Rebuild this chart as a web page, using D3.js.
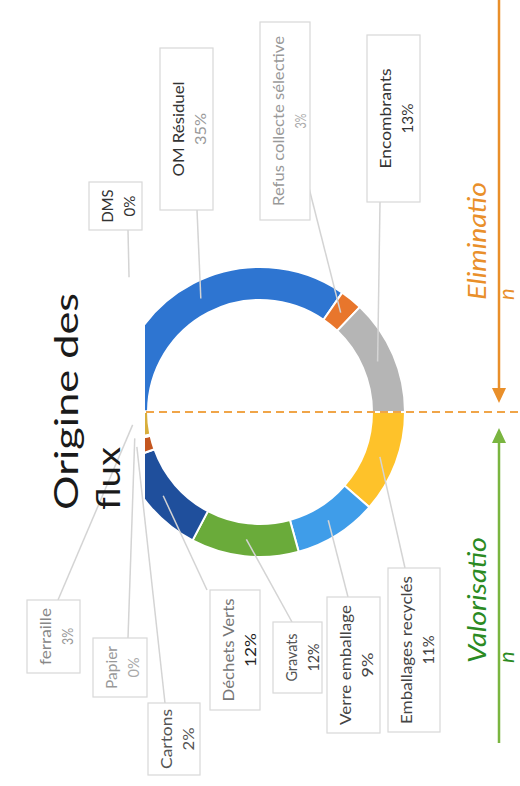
<!DOCTYPE html>
<html lang="fr">
<head>
<meta charset="utf-8">
<title>Origine des flux</title>
<script src="https://d3js.org/d3.v7.min.js"></script>
<style>
  body { margin: 0; background: #fff; }
  svg text { font-family: Lato, "Open Sans", sans-serif; }
</style>
</head>
<body>
<div id="chart"></div>
<script>
"use strict"

// parts of the donut, clockwise from the top (chart is drawn upright then turned)
var categories = ["DMS", "OM Résiduel", "Refus collecte sélective", "Encombrants",
  "Emballages recyclés", "Verre emballage", "Gravats", "Déchets Verts",
  "Cartons", "Papier", "ferraille"];
var shares = [0.1, 34.5, 2.5, 12.9, 11.4, 9.3, 12.0, 11.9, 2.0, 0.2, 3.2];
var colors = ["#7f7f7f", "#2e75d1", "#e8762c", "#b5b5b5", "#fec22a", "#3f9de9",
  "#6aab3a", "#1f4f9c", "#c4561f", "#8a8a8a", "#d8ae3c"];

var titleLines = ["Origine des", "flux"];
var flowNames = [["Eliminatio", "n"], ["Valorisatio", "n"]];

// label boxes, in the upright frame (786 wide, 520 high)
var labelBoxes = [
  {x: 556, y: 89,  w: 48,  h: 53, sx: 556, sy: 128, reach: 0.26, nLen: 33,  pLen: 21, nc: "#333", pc: "#333"},
  {x: 576, y: 160, w: 162, h: 53, sx: 576, sy: 197, reach: 1, nLen: 95,  pLen: 32, nc: "#333", pc: "#999"},
  {x: 566, y: 260, w: 198, h: 50, sx: 598, sy: 309, reach: 1, nLen: 170, pLen: 15, nc: "#999", pc: "#aaa"},
  {x: 584, y: 367, w: 167, h: 53, sx: 584, sy: 380, reach: 1, nLen: 100, pLen: 30, nc: "#333", pc: "#333"},
  {x: 54,  y: 388, w: 164, h: 52, sx: 218, sy: 405, reach: 1, nLen: 148, pLen: 29, nc: "#444", pc: "#444"},
  {x: 53,  y: 327, w: 136, h: 53, sx: 189, sy: 348, reach: 1, nLen: 120, pLen: 25, nc: "#444", pc: "#444"},
  {x: 93,  y: 273, w: 71,  h: 49, sx: 164, sy: 292, reach: 1, nLen: 48,  pLen: 28, nc: "#555", pc: "#444"},
  {x: 76,  y: 210, w: 120, h: 50, sx: 196, sy: 207, reach: 1, nLen: 103, pLen: 34, nc: "#777", pc: "#222"},
  {x: 11,  y: 148, w: 72,  h: 52, sx: 83,  sy: 165, reach: 1, nLen: 60,  pLen: 23, nc: "#555", pc: "#555"},
  {x: 89,  y: 93,  w: 59,  h: 54, sx: 148, sy: 128, reach: 1, nLen: 43,  pLen: 20, nc: "#999", pc: "#aaa"},
  {x: 113, y: 27,  w: 73,  h: 53, sx: 186, sy: 58,  reach: 1, nLen: 57,  pLen: 17, nc: "#888", pc: "#999"}
];

var W = 786, H = 520;
var cx = 374, cy = 260, rIn = 112, rOut = 145, rLead = 128;

var svg = d3.select("#chart").append("svg")
  .attr("width", H)
  .attr("height", W);

var g = svg.append("g")
  .attr("transform", "translate(0," + W + ") rotate(-90)");

g.append("defs").append("clipPath").attr("id", "ringClip")
  .append("rect").attr("x", 0).attr("y", 145).attr("width", W).attr("height", H - 145);

var pie = d3.pie().sort(null).value(function(d) { return d; });
var arcs = pie(shares);
var arc = d3.arc().innerRadius(rIn).outerRadius(rOut);

g.append("g").attr("clip-path", "url(#ringClip)")
  .append("g").attr("transform", "translate(" + cx + "," + cy + ")")
  .selectAll("path")
  .data(arcs)
  .enter().append("path")
    .attr("d", arc)
    .attr("fill", function(d, i) { return colors[i]; })
    .attr("stroke", "#fff")
    .attr("stroke-width", 2);

// separation line between the two halves
g.append("line")
  .attr("x1", cx).attr("x2", cx)
  .attr("y1", 146).attr("y2", H)
  .attr("stroke", "#f0a548")
  .attr("stroke-width", 2)
  .attr("stroke-dasharray", "8,5");

// leader lines
g.selectAll(".lead")
  .data(arcs)
  .enter().append("line")
    .attr("class", "lead")
    .each(function(d, i) {
      var b = labelBoxes[i];
      var a = (d.startAngle + d.endAngle) / 2;
      var ex = cx + rLead * Math.sin(a), ey = cy - rLead * Math.cos(a);
      d3.select(this)
        .attr("x1", b.sx).attr("y1", b.sy)
        .attr("x2", b.sx + b.reach * (ex - b.sx))
        .attr("y2", b.sy + b.reach * (ey - b.sy));
    })
    .attr("stroke", "#d4d4d4")
    .attr("stroke-width", 1.5);

var lab = g.selectAll(".lab")
  .data(categories)
  .enter().append("g")
    .attr("class", "lab");

lab.append("rect")
  .attr("x", function(d, i) { return labelBoxes[i].x; })
  .attr("y", function(d, i) { return labelBoxes[i].y; })
  .attr("width", function(d, i) { return labelBoxes[i].w; })
  .attr("height", function(d, i) { return labelBoxes[i].h; })
  .attr("fill", "#fff")
  .attr("stroke", "#d8d8d8")
  .attr("stroke-width", 1.2);

lab.append("text")
  .attr("x", function(d, i) { return labelBoxes[i].x + labelBoxes[i].w / 2; })
  .attr("y", function(d, i) { return labelBoxes[i].y + 24; })
  .attr("text-anchor", "middle")
  .attr("font-size", 15)
  .attr("textLength", function(d, i) { return labelBoxes[i].nLen; })
  .attr("lengthAdjust", "spacingAndGlyphs")
  .attr("fill", function(d, i) { return labelBoxes[i].nc; })
  .text(function(d) { return d; });

lab.append("text")
  .attr("x", function(d, i) { return labelBoxes[i].x + labelBoxes[i].w / 2; })
  .attr("y", function(d, i) { return labelBoxes[i].y + 46; })
  .attr("text-anchor", "middle")
  .attr("font-size", 15)
  .attr("textLength", function(d, i) { return labelBoxes[i].pLen; })
  .attr("lengthAdjust", "spacingAndGlyphs")
  .attr("fill", function(d, i) { return labelBoxes[i].pc; })
  .text(function(d, i) { return Math.round(shares[i]) + "%"; });

// title
g.selectAll(".title")
  .data(titleLines)
  .enter().append("text")
    .attr("class", "title")
    .attr("x", 276)
    .attr("y", function(d, i) { return 78 + i * 42; })
    .attr("font-size", 32)
    .attr("fill", "#1a1a1a")
    .attr("textLength", function(d, i) { return i === 0 ? 217 : 63; })
    .attr("lengthAdjust", "spacingAndGlyphs")
    .text(function(d) { return d; });

// flow arrows
var arrows = [
  {from: W, to: 383, color: "#e98f2a", text: "#e98f2a", tx: 486, len: 118},
  {from: 43, to: 358, color: "#7ab540", text: "#2b8a22", tx: 123, len: 126}
];
var av = 499;
arrows.forEach(function(a, k) {
  var dir = a.to > a.from ? 1 : -1;
  var base = a.to - dir * 15;
  g.append("line")
    .attr("x1", a.from).attr("x2", base)
    .attr("y1", av).attr("y2", av)
    .attr("stroke", a.color)
    .attr("stroke-width", 2.5);
  g.append("path")
    .attr("d", d3.line()([[a.to, av], [base, av - 7], [base, av + 7]]) + "Z")
    .attr("fill", a.color);
  g.append("text")
    .attr("x", a.tx).attr("y", 486)
    .attr("font-size", 25)
    .attr("font-style", "italic")
    .attr("fill", a.text)
    .attr("textLength", a.len)
    .attr("lengthAdjust", "spacingAndGlyphs")
    .text(flowNames[k][0]);
  g.append("text")
    .attr("x", a.tx).attr("y", 514)
    .attr("font-size", 22)
    .attr("font-style", "italic")
    .attr("fill", a.text)
    .text(flowNames[k][1]);
});
</script>
</body>
</html>
